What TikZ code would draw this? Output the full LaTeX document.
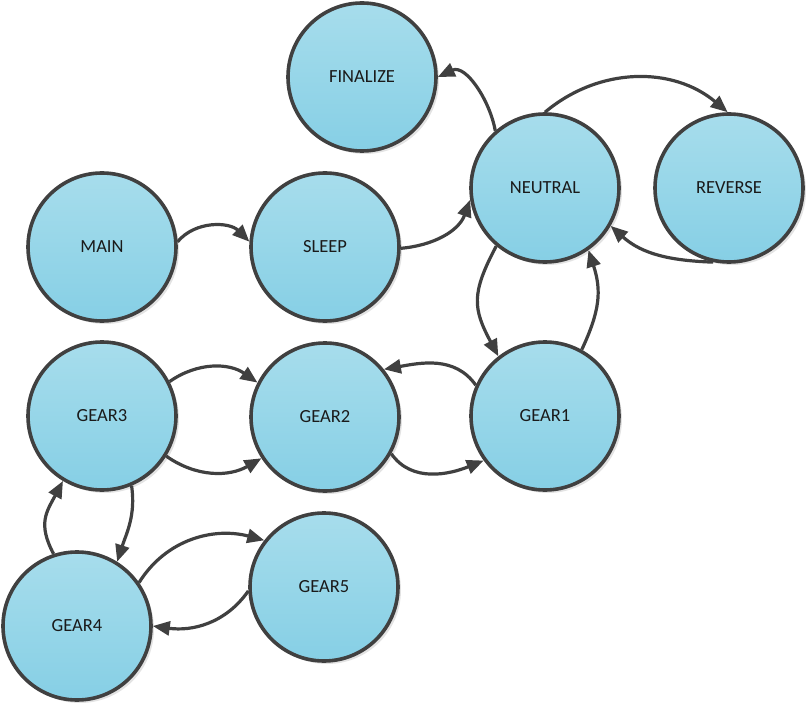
\documentclass[tikz,border=0pt]{standalone}
\usepackage{fontspec}
\setmainfont{Carlito}
\usetikzlibrary{arrows.meta,shadows}
\definecolor{ringcol}{HTML}{404040}
\definecolor{filltop}{HTML}{A7DDEC}
\definecolor{fillbot}{HTML}{86CFE5}
\definecolor{textcol}{HTML}{1A1A1A}
\tikzset{
  state/.style={circle, draw=ringcol, line width=3.6pt, minimum size=148pt,
    inner sep=0pt, top color=filltop, bottom color=fillbot,
    font=\fontsize{18.5}{22}\selectfont, text=textcol,
    drop shadow={shadow xshift=3pt, shadow yshift=-3pt, opacity=0.18, fill=black!60}},
  trans/.style={draw=ringcol, line width=3.2pt,
    -{Triangle[length=17pt,width=14pt]}}
}
\begin{document}
\begin{tikzpicture}[x=1pt,y=1pt]
\useasboundingbox (0,0) rectangle (809,-706);
% states
\node[state] (finalize) at (362,-77)  {FINALIZE};
\node[state] (neutral)  at (545,-188) {NEUTRAL};
\node[state] (reverse)  at (729,-188) {REVERSE};
\node[state] (main)     at (102,-247) {MAIN};
\node[state] (sleep)    at (325,-247) {SLEEP};
\node[state] (gear3)    at (102,-416) {GEAR3};
\node[state] (gear2)    at (325,-417) {GEAR2};
\node[state] (gear1)    at (545,-416) {GEAR1};
\node[state] (gear4)    at (77,-626)  {GEAR4};
\node[state] (gear5)    at (324,-587) {GEAR5};
% transitions
\draw[trans] (main.4) to[out=50,in=135] (sleep.176);
\draw[trans] (sleep.-1) to[out=5,in=-110] (neutral.189);
\draw[trans] (neutral.131) to[out=100,in=25] (finalize.0);
\draw[trans] (neutral.90) to[out=40,in=140] (reverse.91);
\draw[trans] (reverse.-102) to[out=178,in=-42] (neutral.-30);
\draw[trans] (neutral.-130) to[out=-118,in=118,looseness=1.25] (gear1.128);
\draw[trans] (gear1.61) to[out=65,in=-72,looseness=1.1] (neutral.-55);
\draw[trans] (gear1.156) to[out=125,in=10] (gear2.39);
\draw[trans] (gear2.-29) to[out=-55,in=-158] (gear1.-144);
\draw[trans] (gear3.27) to[out=35,in=145] (gear2.153);
\draw[trans] (gear3.-32) to[out=-35,in=-150] (gear2.-147);
\draw[trans] (gear3.-67) to[out=-82,in=72] (gear4.58);
\draw[trans] (gear4.108) to[out=118,in=-118,looseness=1.2] (gear3.-121);
\draw[trans] (gear4.35) to[out=58,in=165] (gear5.142);
\draw[trans] (gear5.183) to[out=235,in=-8] (gear4.0);
\end{tikzpicture}
\end{document}
